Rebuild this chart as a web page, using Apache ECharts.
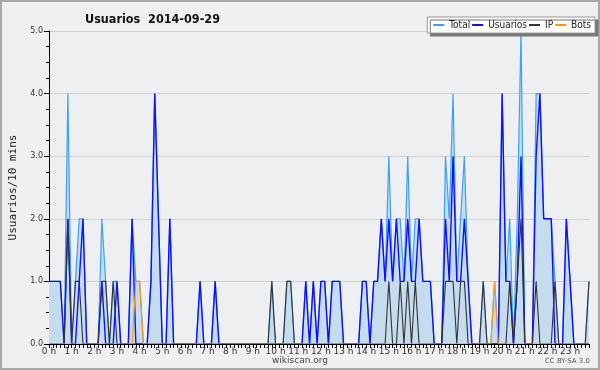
<!DOCTYPE html>
<html>
<head>
<meta charset="utf-8">
<script src="https://cdn.jsdelivr.net/npm/echarts@6/dist/echarts.min.js"></script>
<style>
  html, body { margin: 0; padding: 0; background: #f0f0f0; }
  #chart { width: 600px; height: 370px; }
</style>
</head>
<body>
<div id="chart"></div>
<script>
// one value every 10 minutes, 144 slots
const hourLabels = ["0 h","1 h","2 h","3 h","4 h","5 h","6 h","7 h","8 h","9 h","10 h","11 h",
  "12 h","13 h","14 h","15 h","16 h","17 h","18 h","19 h","20 h","21 h","22 h","23 h"];

const total = [
  1,1,1,1,0,4,0,1,2,2,0,0,
  0,0,2,1,0,1,1,0,0,0,2,1,
  1,0,0,1,4,2,0,0,2,0,0,0,
  0,0,0,0,1,0,0,0,1,0,0,0,
  0,0,0,0,0,0,0,0,0,0,0,1,
  0,0,0,1,1,0,0,0,1,0,1,0,
  1,1,0,1,1,1,0,0,0,0,0,1,
  1,0,1,1,2,1,3,1,2,2,1,3,
  1,2,2,1,1,1,0,0,0,3,2,4,
  1,2,3,1,0,0,0,1,0,0,1,0,
  4,1,2,0,2,5,0,0,0,4,4,2,
  2,2,1,0,0,2,1,0,0,0,0,1
];
const usuarios = [
  1,1,1,1,0,2,0,0,1,2,0,0,
  0,0,1,0,0,0,1,0,0,0,2,0,
  0,0,0,1,4,2,0,0,2,0,0,0,
  0,0,0,0,1,0,0,0,1,0,0,0,
  0,0,0,0,0,0,0,0,0,0,0,0,
  0,0,0,0,0,0,0,0,1,0,1,0,
  1,1,0,1,1,1,0,0,0,0,0,1,
  1,0,1,1,2,1,2,1,2,1,1,2,
  1,1,2,1,1,1,0,0,0,2,1,3,
  1,1,2,1,0,0,0,0,0,0,0,0,
  4,1,1,0,1,3,0,0,0,3,4,2,
  2,2,0,0,0,2,1,0,0,0,0,0
];
const ip = [
  0,0,0,0,0,2,0,1,1,0,0,0,
  0,0,1,1,0,1,0,0,0,0,0,0,
  0,0,0,0,0,0,0,0,0,0,0,0,
  0,0,0,0,0,0,0,0,0,0,0,0,
  0,0,0,0,0,0,0,0,0,0,0,1,
  0,0,0,1,1,0,0,0,0,0,0,0,
  0,0,0,0,0,0,0,0,0,0,0,0,
  0,0,0,0,0,0,1,0,0,1,0,1,
  0,1,0,0,0,0,0,0,0,1,1,1,
  0,1,1,0,0,0,0,1,0,0,0,0,
  0,0,1,0,1,2,0,0,0,1,0,0,
  0,0,1,0,0,0,0,0,0,0,0,1
];
const bots = [
  0,0,0,0,0,0,0,0,0,0,0,0,
  0,0,0,0,0,0,0,0,0,0,0,1,
  1,0,0,0,0,0,0,0,0,0,0,0,
  0,0,0,0,0,0,0,0,0,0,0,0,
  0,0,0,0,0,0,0,0,0,0,0,0,
  0,0,0,0,0,0,0,0,0,0,0,0,
  0,0,0,0,0,0,0,0,0,0,0,0,
  0,0,0,0,0,0,0,0,0,0,0,0,
  0,0,0,0,0,0,0,0,0,0,0,0,
  0,0,0,0,0,0,0,0,0,0,1,0,
  0,0,0,0,0,0,0,0,0,0,0,0,
  0,0,0,0,0,0,0,0,0,0,0,0
];

// category per 10-minute slot, labelled on the hour
const slots = [];
hourLabels.forEach(h => { for (let m = 0; m < 6; m++) slots.push(m === 0 ? h : ""); });

const chart = echarts.init(document.getElementById("chart"));
const font = "DejaVu Sans";
const narrow = "'DejaVu Sans Condensed', 'Liberation Sans', sans-serif";

const lineSeries = (name, data, color, width) => ({
  name: name,
  type: "line",
  data: data,
  symbol: "none",
  animation: false,
  lineStyle: { color: color, width: width },
  itemStyle: { color: color }
});

const option = {
  backgroundColor: "#f0f0f0",
  animation: false,
  title: {
    text: "Usuarios  2014-09-29",
    left: 80,
    top: 8,
    textStyle: { fontFamily: narrow, fontSize: 12.5, fontWeight: "bold", color: "#111" }
  },
  legend: {
    right: 5,
    top: 17,
    icon: "rect",
    itemWidth: 11,
    itemHeight: 2,
    itemGap: 2,
    padding: [3, 4, 3, 6],
    backgroundColor: "#ffffff",
    borderColor: "#999",
    borderWidth: 1,
    shadowColor: "#777",
    shadowOffsetX: 3,
    shadowOffsetY: 3,
    shadowBlur: 0,
    textStyle: { fontFamily: narrow, fontSize: 10, color: "#222" },
    data: ["Total", "Usuarios", "IP", "Bots"]
  },
  grid: {
    left: 46, right: 11, top: 31, bottom: 26,
    show: true, backgroundColor: "#eeeff1", borderWidth: 0
  },
  xAxis: {
    type: "category",
    data: slots,
    boundaryGap: false,
    z: 10,
    axisLine: { lineStyle: { color: "#000", width: 1 } },
    axisTick: { show: true, interval: 0, length: 4, lineStyle: { color: "#000" } },
    axisLabel: { interval: 5, margin: 3, fontFamily: font, fontSize: 9, color: "#333" },
    splitLine: { show: false }
  },
  yAxis: {
    type: "value",
    min: 0, max: 5, interval: 1,
    name: "Usuarios/10 mins",
    nameLocation: "middle",
    nameRotate: 90,
    nameGap: 30,
    nameTextStyle: { fontFamily: "DejaVu Sans Mono", fontSize: 11, color: "#222" },
    axisLine: { show: true, lineStyle: { color: "#000", width: 1 } },
    axisTick: { show: true, length: 5, lineStyle: { color: "#000" } },
    minorTick: { show: true, splitNumber: 4, length: 3, lineStyle: { color: "#000" } },
    axisLabel: {
      margin: 6, fontFamily: font, fontSize: 8, color: "#333",
      formatter: v => v.toFixed(1)
    },
    splitLine: { lineStyle: { color: "#cfd0d2", width: 1 } }
  },
  series: [
    Object.assign(lineSeries("Total", total, "#3fa0f2", 1.2), {
      areaStyle: { color: "#c5dcef", opacity: 1 }
    }),
    lineSeries("Usuarios", usuarios, "#1010ff", 1.4),
    lineSeries("IP", ip, "#333333", 1.1),
    lineSeries("Bots", bots, "#ff9a10", 1.1)
  ],
  graphic: [
    {
      type: "rect", silent: true,
      shape: { x: 1, y: 1, width: 598, height: 368 },
      style: { fill: "none", stroke: "#a8a8a8", lineWidth: 2 }
    },
    {
      type: "text", left: "center", top: 356,
      style: { text: "wikiscan.org", font: "9px " + font, fill: "#444" }
    },
    {
      type: "text", right: 10, top: 358,
      style: { text: "CC BY-SA 3.0", font: "7px " + font, fill: "#555" }
    }
  ]
};

chart.setOption(option);
</script>
</body>
</html>
